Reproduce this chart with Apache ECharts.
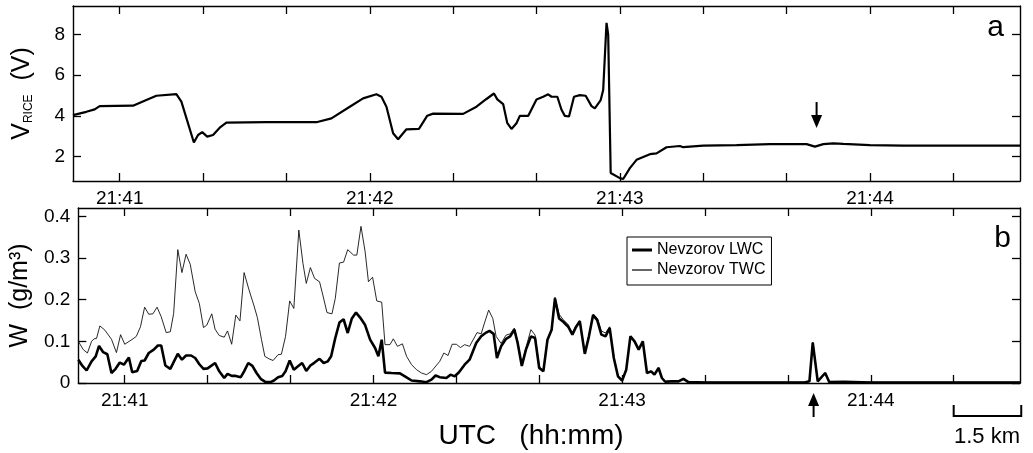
<!DOCTYPE html>
<html><head><meta charset="utf-8">
<script src="https://cdn.jsdelivr.net/npm/echarts@6/dist/echarts.min.js"></script>
<style>html,body{margin:0;padding:0;background:#fff}#c{width:1033px;height:453px}</style>
</head><body><div id="c"></div>
<script>
const FONT = '"Liberation Sans", Arial, Helvetica, sans-serif';
// time in seconds after 21:40:00 UTC
const timeRange = [48.8, 276];
const timeTicks = [60, 80, 100, 120, 140, 160, 180, 200, 220, 240, 260];
const timeLabels = [60, 120, 180, 240];
const vriceRange = [0.8, 9.4];
const vriceTicks = [2, 4, 6, 8];
const wRange = [0, 0.42];
const wTicks = [0, 0.1, 0.2, 0.3, 0.4];
const seriesNames = ['Nevzorov LWC', 'Nevzorov TWC'];

const vrice = [
 [48.8,4.04],[52.0,4.2],[54.0,4.32],[55.2,4.48],[63.2,4.5],[66.4,4.78],[68.8,4.99],[73.6,5.07],[74.8,4.7],
 [77.8,2.69],[78.8,3.06],[79.8,3.2],[81.0,2.98],[82.4,3.06],[84.0,3.42],[85.6,3.67],[95.2,3.69],[107.2,3.69],
 [110.8,3.88],[115.2,4.45],[118.4,4.86],[121.6,5.06],[122.8,4.94],[124.0,4.45],[125.6,3.15],[126.8,2.85],
 [128.8,3.34],[131.8,3.36],[133.8,4.01],[135.2,4.11],[142.4,4.1],[145.6,4.45],[148.0,4.83],[149.8,5.1],
 [150.6,4.81],[152.0,4.58],[153.0,3.64],[154.0,3.36],[155.2,3.64],[156.0,4.0],[158.0,4.0],[160.0,4.81],
 [161.6,4.94],[162.8,5.06],[163.6,4.94],[165.0,4.94],[166.0,4.3],[166.8,4.0],[167.8,3.97],[169.0,4.94],
 [170.4,5.02],[171.8,4.99],[173.2,4.48],[174.0,4.37],[175.4,4.78],[176.0,5.27],[176.8,8.57],[177.2,8.0],
 [177.8,1.19],[180.0,0.94],[180.8,0.9],[182.4,1.43],[184.0,1.84],[187.2,2.12],[188.8,2.16],[191.2,2.46],
 [194.4,2.52],[195.2,2.46],[200,2.54],[208,2.56],[216,2.61],[224.8,2.61],[226.8,2.49],[228.8,2.61],
 [231.2,2.65],[233.6,2.62],[240,2.56],[248,2.54],[276,2.54]
];

const lwc = [
 [48.8,0.056],[49.8,0.041],[50.8,0.030],[52.0,0.052],[53.0,0.064],[53.8,0.089],[54.8,0.074],[55.8,0.069],
 [56.8,0.024],[57.8,0.034],[58.8,0.049],[59.8,0.044],[61.0,0.061],[61.8,0.026],[63.0,0.029],[64.0,0.053],
 [64.8,0.054],[65.8,0.072],[67.0,0.080],[68.0,0.090],[68.8,0.090],[69.8,0.042],[71.0,0.034],[71.8,0.050],
 [72.8,0.070],[73.8,0.056],[74.8,0.066],[76.0,0.066],[77.0,0.060],[78.0,0.045],[79.0,0.034],[80.0,0.035],
 [81.8,0.048],[82.8,0.028],[84.0,0.012],[84.8,0.022],[85.8,0.017],[86.8,0.017],[88.0,0.014],[88.8,0.028],
 [89.8,0.048],[90.8,0.041],[91.8,0.024],[92.8,0.010],[94.0,0.002],[95.2,0.002],[96.0,0.006],[97.0,0.014],
 [98.0,0.017],[98.8,0.028],[99.8,0.054],[100.8,0.032],[101.8,0.040],[102.8,0.048],[103.8,0.029],[104.8,0.042],
 [105.8,0.049],[107.0,0.058],[108.0,0.048],[109.0,0.052],[109.8,0.064],[110.8,0.108],[111.8,0.145],[112.8,0.153],
 [113.8,0.120],[114.8,0.155],[115.8,0.169],[116.8,0.157],[118.0,0.139],[119.2,0.104],[120.4,0.084],[121.2,0.064],
 [122.0,0.104],[122.8,0.025],[124.4,0.024],[126.4,0.023],[127.6,0.016],[129.2,0.006],[131.2,0.004],[132.8,0.002],
 [134.0,0.008],[135.0,0.018],[136.0,0.014],[137.6,0.012],[138.6,0.020],[139.6,0.016],[140.6,0.025],[142.0,0.044],
 [143.2,0.056],[144.8,0.096],[146.0,0.112],[147.2,0.121],[148.0,0.125],[149.0,0.118],[149.8,0.060],[150.8,0.088],
 [152.0,0.106],[153.0,0.112],[154.0,0.128],[154.8,0.096],[155.8,0.041],[156.8,0.080],[158.0,0.112],[159.0,0.108],
 [160.0,0.036],[161.0,0.028],[162.0,0.104],[163.0,0.128],[163.8,0.203],[164.8,0.155],[165.8,0.147],[167.0,0.135],
 [168.0,0.116],[168.8,0.133],[169.8,0.148],[171.0,0.070],[172.0,0.112],[173.0,0.163],[174.0,0.151],[175.0,0.116],
 [176.0,0.112],[177.0,0.132],[178.0,0.060],[179.0,0.016],[180.0,0.006],[181.0,0.032],[182.0,0.112],[183.0,0.100],
 [184.0,0.080],[185.0,0.100],[186.0,0.024],[187.0,0.028],[187.8,0.020],[188.8,0.036],[189.6,0.012],[190.4,0.003],
 [192.0,0.004],[193.6,0.004],[194.8,0.010],[196.0,0.002],[200.0,0.001],[224.0,0.001],[225.2,0.004],[226.0,0.097],
 [227.2,0.004],[229.0,0.024],[230.0,0.002],[233.6,0.003],[240.0,0.001],[276.0,0.001]
];

const twc = [
 [48.8,0.100],[50.0,0.080],[51.0,0.072],[52.0,0.100],[52.6,0.106],[53.2,0.107],[54.0,0.137],[55.2,0.127],
 [56.8,0.105],[58.0,0.073],[59.0,0.116],[60.0,0.093],[62.0,0.106],[62.8,0.112],[63.8,0.135],[64.8,0.182],
 [65.8,0.165],[66.8,0.166],[67.8,0.182],[68.8,0.159],[70.0,0.121],[71.0,0.123],[71.8,0.167],[72.8,0.320],
 [73.8,0.265],[74.8,0.309],[75.8,0.285],[77.0,0.219],[78.0,0.191],[79.0,0.133],[79.8,0.139],[81.0,0.166],
 [81.8,0.129],[82.8,0.114],[84.0,0.110],[84.8,0.125],[85.8,0.093],[86.8,0.163],[87.8,0.149],[88.8,0.265],
 [90.0,0.223],[91.2,0.185],[92.0,0.157],[93.0,0.104],[93.8,0.064],[94.8,0.058],[95.8,0.054],[97.0,0.068],
 [97.8,0.069],[98.8,0.112],[99.8,0.197],[100.8,0.179],[102.0,0.367],[103.0,0.287],[103.8,0.239],[104.8,0.277],
 [105.8,0.251],[107.0,0.243],[107.8,0.211],[108.8,0.169],[110.0,0.166],[110.8,0.203],[111.8,0.288],[112.8,0.290],
 [113.8,0.320],[115.2,0.307],[116.0,0.307],[117.0,0.376],[118.0,0.315],[118.8,0.243],[119.8,0.254],[120.8,0.197],
 [122.0,0.194],[122.8,0.092],[124.0,0.092],[124.8,0.106],[125.8,0.088],[127.0,0.094],[128.0,0.064],[129.2,0.044],
 [130.4,0.032],[131.6,0.024],[132.8,0.020],[134.0,0.028],[136.0,0.052],[137.0,0.072],[138.0,0.066],[139.0,0.093],
 [140.0,0.093],[141.0,0.085],[142.0,0.092],[143.2,0.088],[145.0,0.121],[146.0,0.118],[146.8,0.144],[147.8,0.175],
 [148.8,0.155],[149.6,0.112],[150.8,0.095],[152.0,0.115],[153.0,0.118],[154.0,0.132],[154.8,0.100],[155.8,0.045],
 [156.8,0.085],[158.0,0.128],[159.0,0.115],[160.0,0.040],[161.0,0.030],[162.0,0.106],[163.0,0.130],[163.8,0.206],
 [164.8,0.165],[165.8,0.152],[167.0,0.140],[168.0,0.120],[168.8,0.136],[169.8,0.150],[171.0,0.072],[172.0,0.115],
 [173.0,0.165],[174.0,0.156],[175.0,0.125],[176.0,0.120],[177.0,0.135],[178.0,0.062],[179.0,0.017],[180.0,0.007],
 [181.0,0.034],[182.0,0.113],[183.0,0.101],[184.0,0.081],[185.0,0.101],[186.0,0.025],[187.0,0.029],[187.8,0.021],
 [188.8,0.037],[189.6,0.013],[190.4,0.004],[192.0,0.005],[193.6,0.005],[194.8,0.011],[196.0,0.003],[200.0,0.002],
 [224.0,0.002],[225.2,0.005],[226.0,0.098],[227.2,0.005],[229.0,0.025],[230.0,0.003],[240.0,0.002],[276.0,0.002]
];

// annotation anchors (time in s, values in axis units)
const arrowTopTime = 227.2, arrowTopTip = 3.4, arrowTopTail = 4.68;
const arrowBottomTime = 226.2;
const scaleBarTimes = [260, 276.3];

const fmtTime = v => '21:' + (40 + Math.round(v / 60));
const fmtW = v => v === 0 ? '0' : v.toFixed(1);
const AX = '#000';
const TICKFONT = 19;

function xAx(grid, pos, showLabel) {
  return {
    type: 'value', gridIndex: grid, position: pos, min: timeRange[0], max: timeRange[1],
    axisLine: { show: true, onZero: false, lineStyle: { color: AX, width: 1.4 } },
    axisTick: { show: true, inside: true, length: 8, customValues: timeTicks, lineStyle: { color: AX, width: 1.3 } },
    axisLabel: { show: showLabel, customValues: timeLabels, formatter: fmtTime, color: '#000', fontSize: TICKFONT, fontFamily: FONT, margin: 8 },
    splitLine: { show: false }
  };
}
function yAx(grid, pos, range, ticks, showLabel, fmt, name, nameStyle) {
  const o = {
    type: 'value', gridIndex: grid, position: pos, min: range[0], max: range[1],
    axisLine: { show: true, onZero: false, lineStyle: { color: AX, width: 1.4 } },
    axisTick: { show: true, inside: true, length: 8, customValues: ticks, lineStyle: { color: AX, width: 1.3 } },
    axisLabel: { show: showLabel, customValues: ticks, formatter: fmt, color: '#000', fontSize: TICKFONT, fontFamily: FONT, margin: 8 },
    splitLine: { show: false }
  };
  if (name) { o.name = name; o.nameLocation = 'middle'; o.nameGap = 38; o.nameTextStyle = nameStyle; }
  return o;
}

const chart = echarts.init(document.getElementById('c'), null, { renderer: 'canvas' });
const option = {
  animation: false,
  backgroundColor: '#fff',
  grid: [
    { left: 73, right: 13, top: 6, height: 175 },
    { left: 73, right: 13, top: 208, height: 175 }
  ],
  xAxis: [xAx(0, 'bottom', true), xAx(0, 'top', false), xAx(1, 'bottom', true), xAx(1, 'top', false)],
  yAxis: [
    yAx(0, 'left', vriceRange, vriceTicks, true, v => String(v), '{v|V}{s|RICE}{v|  (V)}',
      { color: '#000', fontFamily: FONT, rich: { v: { fontSize: 25, fontFamily: FONT, color: '#000' }, s: { fontSize: 12, fontFamily: FONT, color: '#000', verticalAlign: 'bottom' } } }),
    yAx(0, 'right', vriceRange, vriceTicks, false, v => String(v)),
    yAx(1, 'left', wRange, wTicks, true, fmtW, 'W  (g/m³)', { color: '#000', fontSize: 25, fontFamily: FONT }),
    yAx(1, 'right', wRange, wTicks, false, fmtW)
  ],
  legend: {
    data: [
      { name: seriesNames[0], icon: 'path://M0,0H20V3H0Z' },
      { name: seriesNames[1], icon: 'path://M0,0H20V1.2H0Z' }
    ],
    orient: 'vertical', left: 627, top: 237,
    borderColor: '#000', borderWidth: 1, borderRadius: 0, padding: [5, 6, 7, 5],
    itemWidth: 20, itemHeight: 14, itemGap: 4, symbolKeepAspect: true,
    itemStyle: { color: '#000', borderWidth: 0 },
    textStyle: { color: '#000', fontSize: 16, fontFamily: FONT },
    selectedMode: false
  },
  series: [
    { type: 'line', name: 'VRICE', xAxisIndex: 0, yAxisIndex: 0, data: vrice, symbol: 'none', lineStyle: { color: '#000', width: 2.2 }, z: 3 },
    { type: 'line', name: seriesNames[1], xAxisIndex: 2, yAxisIndex: 2, data: twc, symbol: 'none', itemStyle: { color: '#000' }, lineStyle: { color: '#111', width: 0.9 }, z: 2 },
    { type: 'line', name: seriesNames[0], xAxisIndex: 2, yAxisIndex: 2, data: lwc, symbol: 'none', itemStyle: { color: '#000' }, lineStyle: { color: '#000', width: 2.6 }, z: 3 }
  ]
};
chart.setOption(option);

const px = (xi, yi, pt) => chart.convertToPixel({ xAxisIndex: xi, yAxisIndex: yi }, pt);
const tipT = px(0, 0, [arrowTopTime, arrowTopTip]);
const tailT = px(0, 0, [arrowTopTime, arrowTopTail]);
const baseB = px(2, 2, [arrowBottomTime, 0]);
const sb0 = px(2, 2, [scaleBarTimes[0], 0]);
const sb1 = px(2, 2, [scaleBarTimes[1], 0]);
const txt = (text, x, y, size, align) => ({
  type: 'text', x: x, y: y, z: 10,
  style: { text: text, fontSize: size, fontFamily: FONT, fill: '#000', align: align, verticalAlign: 'middle', textAlign: align, textVerticalAlign: 'middle' }
});
const bTip = baseB[1] + 10, bTail = baseB[1] + 34;
chart.setOption({
  graphic: [
    { type: 'line', z: 10, shape: { x1: tailT[0], y1: tailT[1], x2: tipT[0], y2: tipT[1] - 10 }, style: { stroke: '#000', lineWidth: 2 } },
    { type: 'polygon', z: 10, shape: { points: [[tipT[0], tipT[1]], [tipT[0] - 5.5, tipT[1] - 13], [tipT[0] + 5.5, tipT[1] - 13]] }, style: { fill: '#000' } },
    { type: 'line', z: 10, shape: { x1: baseB[0], y1: bTail, x2: baseB[0], y2: bTip + 10 }, style: { stroke: '#000', lineWidth: 2 } },
    { type: 'polygon', z: 10, shape: { points: [[baseB[0], bTip], [baseB[0] - 5.5, bTip + 13], [baseB[0] + 5.5, bTip + 13]] }, style: { fill: '#000' } },
    { type: 'polyline', z: 10, shape: { points: [[sb0[0], 405], [sb0[0], 416], [sb1[0], 416], [sb1[0], 405]] }, style: { stroke: '#000', lineWidth: 2, fill: null } },
    txt('a', 1004, 28, 30, 'right'),
    txt('b', 1011, 239, 30, 'right'),
    txt('UTC   (hh:mm)', 531, 436, 28, 'center'),
    txt('1.5 km', 987, 437, 22, 'center')
  ]
});
</script>
</body></html>
